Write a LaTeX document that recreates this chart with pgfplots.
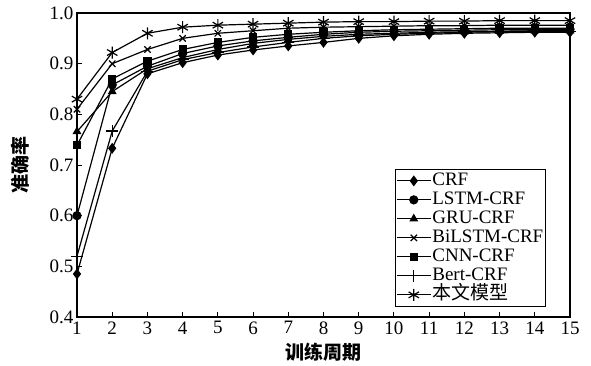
\documentclass[border=0pt]{standalone}
\usepackage{pgfplots}
\pgfplotsset{compat=1.18}
\usepackage{fontspec}
\setmainfont{Liberation Serif}
\newfontfamily\cjk{Noto Sans CJK SC}
\begin{document}
\begin{tikzpicture}
\begin{axis}[
  scale only axis, width=493pt, height=304pt,
  xmin=1, xmax=15, ymin=0.4, ymax=1.0,
  xtick={1,...,15}, ytick={0.4,0.5,...,1.0},
  yticklabel style={/pgf/number format/fixed,/pgf/number format/fixed zerofill,/pgf/number format/precision=1},
  /pgf/number format/assume math mode=true,
  tick pos=left, tick align=inside, major tick length=5pt,
  tick style={line width=1pt,black},
  axis line style={line width=1.2pt},
  font=\fontsize{19pt}{19pt}\selectfont,
  xticklabel style={yshift=-1pt},
  xlabel={\cjk\bfseries 训练周期},
  ylabel={\cjk\bfseries 准确率},
  xlabel style={at={(axis description cs:0.5,-0.115)},anchor=center},
  ylabel style={at={(axis description cs:-0.115,0.5)},anchor=center,rotate=0},
  legend style={at={(axis description cs:0.951,0.033)},anchor=south east,
    draw=black,line width=1.2pt,inner xsep=1pt,inner ysep=2pt,
    nodes={inner ysep=0pt,inner xsep=1pt,text height=14pt,text depth=5pt},
    font=\fontsize{19pt}{19pt}\selectfont},
  legend cell align=left,
  legend image code/.code={\draw[mark repeat=2,mark phase=2,#1] plot coordinates {(0pt,0pt) (17pt,0pt) (34pt,0pt)};},
]
\addplot[black,solid,line width=1.2pt,mark=diamond*,mark size=4.5pt,mark options={solid,fill=black}] coordinates {
(1,0.485)(2,0.733)(3,0.880)(4,0.902)(5,0.917)(6,0.927)(7,0.935)(8,0.942)(9,0.950)(10,0.955)(11,0.958)(12,0.960)(13,0.961)(14,0.962)(15,0.962)};
\addlegendentry{CRF}
\addplot[black,solid,line width=1.2pt,mark=*,mark size=4pt,mark options={solid,fill=black}] coordinates {
(1,0.600)(2,0.858)(3,0.895)(4,0.920)(5,0.935)(6,0.945)(7,0.952)(8,0.958)(9,0.962)(10,0.964)(11,0.965)(12,0.966)(13,0.967)(14,0.967)(15,0.968)};
\addlegendentry{LSTM-CRF}
\addplot[black,solid,line width=1.2pt,mark=triangle*,mark size=4pt,mark options={solid,fill=black}] coordinates {
(1,0.766)(2,0.845)(3,0.890)(4,0.912)(5,0.928)(6,0.940)(7,0.948)(8,0.954)(9,0.958)(10,0.960)(11,0.962)(12,0.963)(13,0.964)(14,0.965)(15,0.965)};
\addlegendentry{GRU-CRF}
\addplot[black,solid,line width=1.2pt,mark=x,mark size=4.5pt,mark options={solid}] coordinates {
(1,0.810)(2,0.900)(3,0.928)(4,0.950)(5,0.960)(6,0.965)(7,0.970)(8,0.972)(9,0.973)(10,0.974)(11,0.975)(12,0.975)(13,0.976)(14,0.976)(15,0.976)};
\addlegendentry{BiLSTM-CRF}
\addplot[black,solid,line width=1.2pt,mark=square*,mark size=3.5pt,mark options={solid,fill=black}] coordinates {
(1,0.739)(2,0.870)(3,0.905)(4,0.928)(5,0.942)(6,0.952)(7,0.958)(8,0.962)(9,0.965)(10,0.967)(11,0.968)(12,0.969)(13,0.970)(14,0.970)(15,0.970)};
\addlegendentry{CNN-CRF}
\addplot[black,solid,line width=1.2pt,mark=+,mark size=6pt,mark options={solid}] coordinates {
(1,0.520)(2,0.767)(3,0.885)(4,0.908)(5,0.922)(6,0.933)(7,0.942)(8,0.950)(9,0.955)(10,0.958)(11,0.960)(12,0.962)(13,0.963)(14,0.964)(15,0.964)};
\addlegendentry{Bert-CRF}
\addplot[black,solid,line width=1.2pt,mark=asterisk,mark size=6pt,mark options={solid}] coordinates {
(1,0.830)(2,0.922)(3,0.960)(4,0.972)(5,0.976)(6,0.978)(7,0.980)(8,0.982)(9,0.983)(10,0.983)(11,0.984)(12,0.984)(13,0.985)(14,0.985)(15,0.985)};
\addlegendentry{\cjk 本文模型}
\end{axis}
\useasboundingbox (-77pt,-48pt) rectangle (514pt,317pt);
\end{tikzpicture}
\end{document}
